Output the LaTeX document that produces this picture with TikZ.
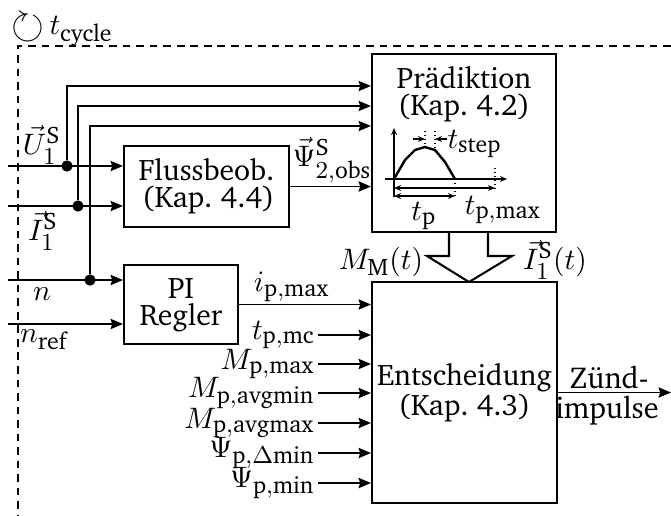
\documentclass[tikz,border=0pt]{standalone}
\usepackage[T1]{fontenc}
\usepackage{charter}
\usepackage{amsmath,amssymb}
\usetikzlibrary{arrows.meta,positioning}

\DeclareMathAlphabet{\mathcr}{T1}{bch}{m}{n}
\DeclareMathSizes{11.2}{11.2}{8.8}{6.8}
\newcommand{\pxu}{0.37pt}
\tikzset{
  block/.style = {draw, line width=0.75pt, inner sep=0pt, align=center, font=\fontsize{11}{10}\selectfont},
  sig/.style = {line width=0.55pt, -{Stealth[length=4.6pt,width=3.8pt,inset=0.6pt]}},
  small/.style = {line width=0.45pt, -{Stealth[length=2.6pt,width=2.2pt]}},
  both/.style = {line width=0.45pt, {Stealth[length=2.6pt,width=2.2pt]}-{Stealth[length=2.6pt,width=2.2pt]}},
  dot/.style = {circle, fill, inner sep=0pt, minimum size=4.2pt},
  lab/.style = {inner sep=1pt, font=\fontsize{11.2}{11.2}\selectfont},
}

\begin{document}
\begin{tikzpicture}[x=\pxu, y=-\pxu]
\useasboundingbox (0,0) rectangle (671,515);

% Zyklusrahmen
\draw[line width=0.55pt, dash pattern=on 2.8pt off 2.2pt] (671,46) -| (18,515);
\node[lab, anchor=base west, inner sep=0pt] (cyc) at (11,34) {\raisebox{-1.5pt}{\scalebox{1.4}{$\circlearrowright$}}\,$t_{\mathcr{cycle}}$};

% Bloecke
\node[block, minimum width=184*\pxu, minimum height=178*\pxu] (praed) at (464,143) {};
\node[below=1.5pt of praed.north, align=center, font=\fontsize{11}{10}\selectfont] (praedtxt) {Prädiktion\\(Kap.~4.2)};
\node[block, minimum width=165*\pxu, minimum height=81*\pxu, align=right] (flb) at (206.5,186.5) {Flussbeob.\\(Kap.~4.4)};
\node[block, minimum width=114*\pxu, minimum height=79*\pxu] (pi) at (181,304.5) {PI\\Regler};
\node[block, minimum width=185*\pxu, minimum height=221*\pxu] (ent) at (464.5,392.5) {Entscheidung\\(Kap.~4.3)};

% Eingaenge
\coordinate (uin) at (8,166);
\coordinate (iin) at (8,206);
\coordinate (nin) at (8,280);
\coordinate (nrin) at (8,324);
\draw[sig] (uin) -- (uin -| flb.west);
\draw[sig] (iin) -- (iin -| flb.west);
\draw[sig] (nin) -- (nin -| pi.west);
\draw[sig] (nrin) -- (nrin -| pi.west);
\node[lab] (lu) at (42,145) {$\vec{U}_1^{\mathcr{S}}$};
\node[lab] (li) at (43,231) {$\vec{I}_1^{\mathcr{S}}$};
\node[lab] (ln) at (42,294) {$n$};
\node[lab] (lnr) at (44,340) {$n_{\mathcr{ref}}$};

% Abzweige zur Praediktion
\node[dot] (du) at (67,166) {};
\node[dot] (di) at (78,206) {};
\node[dot] (dn) at (90,280) {};
\draw[sig] (du) |- (praed.west |- 0,86);
\draw[sig] (di) |- (praed.west |- 0,106);
\draw[sig] (dn) |- (praed.west |- 0,126);

% Verbindungen
\draw[sig] (flb.east) -- (flb.east -| praed.west) node[pos=0.52, above, lab] (lpsi) {$\vec{\Psi}_{2,\mathcr{obs}}^{\mathcr{S}}$};
\draw[sig] (pi.east) -- (pi.east -| ent.west) node[pos=0.4, above, lab] (lipmax) {$i_{\mathcr{p,max}}$};

% Parameter
\node[lab, anchor=east] (ltpmc) at (318,335) {$t_{\mathcr{p,mc}}$};
\node[lab, anchor=east] (lmpmax) at (318,364) {$M_{\mathcr{p,max}}$};
\node[lab, anchor=east] (lmpmin) at (318,393) {$M_{\mathcr{p,avgmin}}$};
\node[lab, anchor=east] (lmpavg) at (318,423) {$M_{\mathcr{p,avgmax}}$};
\node[lab, anchor=east] (lpsid) at (318,453) {$\Psi_{\mathcr{p},\Delta\mathcr{min}}$};
\node[lab, anchor=east] (lpsim) at (318,483) {$\Psi_{\mathcr{p,min}}$};
\draw[sig] (ltpmc.east) -- (ltpmc.east -| ent.west);
\draw[sig] (lmpmax.east) -- (lmpmax.east -| ent.west);
\draw[sig] (lmpmin.east) -- (lmpmin.east -| ent.west);
\draw[sig] (lmpavg.east) -- (lmpavg.east -| ent.west);
\draw[sig] (lpsid.east) -- (lpsid.east -| ent.west);
\draw[sig] (lpsim.east) -- (lpsim.east -| ent.west);

% Blockpfeil
\draw[line width=0.75pt] (449,232) -- (449,256) -- (427,256) -- (469,282) -- (512,256) -- (488,256) -- (488,232);
\node[lab] (lmm) at (381,262) {$M_{\mathcr{M}}(t)$};
\node[lab] (lis) at (555,260) {$\vec{I}_1^{\mathcr{S}}(t)$};

% Ausgang
\coordinate (out) at (671,392.5);
\draw[sig] (ent.east) -- (out);
\node[lab] (zuend) at (609,377) {Zünd-};
\node[lab] (imp) at (607,410) {impulse};

% Pulsskizze
\draw[small] (394,197) -- (394,128);
\draw[small] (385,179) -- (507,179);
\draw[line width=0.9pt] (394,179) -- (405,160) -- (415,150) -- (425,147) -- (435,150) -- (445,162) -- (455,179);
\draw[line width=0.45pt, densely dotted] (425,131) -- (425,147);
\draw[line width=0.45pt, densely dotted] (435,131) -- (435,150);
\draw[line width=0.45pt, densely dotted] (455,179) -- (455,198);
\draw[line width=0.45pt, densely dotted] (495,168) -- (495,190);
\draw[small] (413,139) -- (425,139);
\draw[small] (447,139) -- (435,139);
\draw[both] (394,188) -- (495,188);
\draw[both] (394,196) -- (455,196);
\node[lab, anchor=west, inner sep=0pt] (ltstep) at (447,144) {$t_{\mathcr{step}}$};
\node[lab] (ltp) at (424,216) {$t_{\mathcr{p}}$};
\node[lab] (ltpmax) at (503,210) {$t_{\mathcr{p,max}}$};

\end{tikzpicture}
\end{document}
